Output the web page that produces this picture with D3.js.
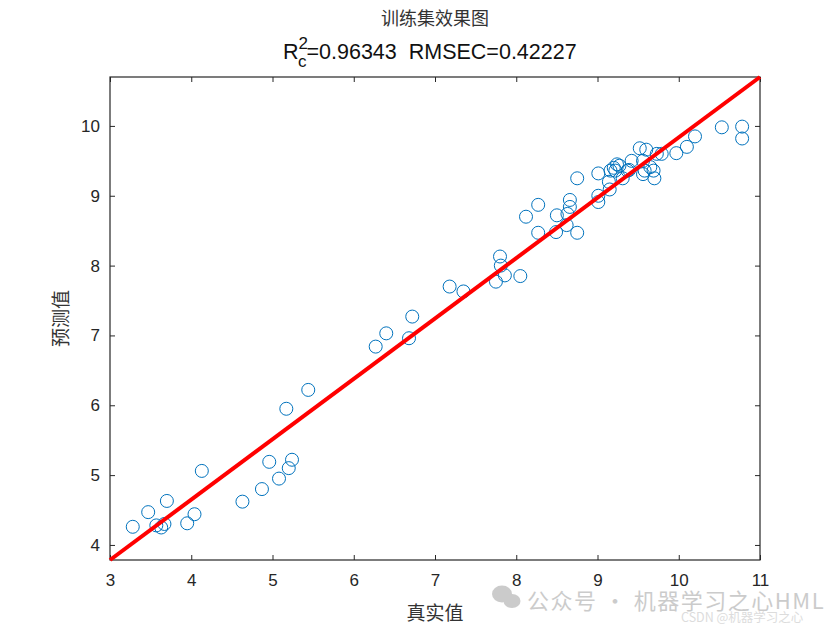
<!DOCTYPE html>
<html>
<head>
<meta charset="utf-8">
<script src="https://cdn.jsdelivr.net/npm/d3@7"></script>
<style>
  body { margin: 0; background: #fff; }
  text { font-family: "Liberation Sans", Arial, sans-serif; }
  .cjk { font-family: "Noto Sans CJK SC", sans-serif; }
</style>
</head>
<body>
<div id="chart"></div>
<script>
// true values (x) and predicted values (y) of the training set
const trueVals = [3.28, 3.47, 3.70, 3.57, 3.63, 3.67, 3.95, 4.04, 4.13, 4.63, 4.87, 5.08, 5.20, 5.24, 4.96,
  5.17, 5.44, 6.27, 6.40, 6.68, 6.72, 7.18, 7.35, 7.80, 7.81, 7.86, 7.75, 8.05, 8.12, 8.27, 8.27, 8.50,
  8.49, 8.62, 8.66, 8.66, 8.63, 8.75, 8.75, 9.01, 9.01, 9.01, 9.15, 9.14, 9.16, 9.20, 9.24, 9.27, 9.22,
  9.31, 9.39, 9.42, 9.37, 9.52, 9.60, 9.56, 9.56, 9.58, 9.65, 9.69, 9.70, 9.73, 9.79, 9.97, 10.10, 10.20,
  10.53, 10.78, 10.78]
const predVals = [4.26, 4.47, 4.63, 4.28, 4.25, 4.30, 4.31, 4.44, 5.06, 4.62, 4.80, 4.95, 5.10, 5.22, 5.19,
  5.95, 6.22, 6.84, 7.03, 6.96, 7.27, 7.70, 7.63, 8.13, 8.00, 7.86, 7.77, 7.85, 8.70, 8.87, 8.47, 8.72,
  8.48, 8.58, 8.94, 8.84, 8.74, 8.47, 9.25, 9.32, 9.00, 8.91, 9.09, 9.20, 9.36, 9.40, 9.45, 9.43, 9.36,
  9.25, 9.37, 9.50, 9.36, 9.68, 9.66, 9.50, 9.31, 9.36, 9.41, 9.36, 9.25, 9.60, 9.60, 9.61, 9.70, 9.85,
  9.98, 9.99, 9.82]

// fitted line y = slope * x + intercept
const fitSlope = 0.8645
const fitIntercept = 1.191
const xTicks = [3, 4, 5, 6, 7, 8, 9, 10, 11]
const yTicks = [4, 5, 6, 7, 8, 9, 10]
const xRange = [3, 11]

const W = 840, H = 630
const margin = { left: 110, top: 77, right: 80, bottom: 70 }
const pw = W - margin.left - margin.right
const ph = H - margin.top - margin.bottom

const x = d3.scaleLinear().domain(xRange).range([0, pw])
const y = d3.scaleLinear()
  .domain([fitSlope * xRange[0] + fitIntercept, fitSlope * xRange[1] + fitIntercept])
  .range([ph, 0])

const svg = d3.select("#chart").append("svg")
  .attr("width", W).attr("height", H)

const g = svg.append("g")
  .attr("transform", "translate(" + margin.left + "," + margin.top + ")")

// axes, ticks pointing inward
g.append("g").attr("transform", "translate(0," + ph + ")")
  .call(d3.axisBottom(x).tickValues(xTicks).tickFormat(d3.format("d")).tickSize(-5).tickPadding(14).tickSizeOuter(0))
g.append("g")
  .call(d3.axisLeft(y).tickValues(yTicks).tickFormat(d3.format("d")).tickSize(-5).tickPadding(10).tickSizeOuter(0))
// top and right ticks (box)
g.append("g").call(d3.axisTop(x).tickValues(xTicks).tickSize(-5).tickFormat("").tickSizeOuter(0))
g.append("g").attr("transform", "translate(" + pw + ",0)")
  .call(d3.axisRight(y).tickValues(yTicks).tickSize(-5).tickFormat("").tickSizeOuter(0))

g.selectAll(".domain").remove()
g.selectAll(".tick line").attr("stroke", "#262626")
g.selectAll(".tick text").attr("fill", "#262626").style("font-size", "17px")

g.append("rect")
  .attr("width", pw).attr("height", ph)
  .attr("fill", "none").attr("stroke", "#262626").attr("stroke-width", 1.2)

// scatter
g.append("g").selectAll("circle")
  .data(trueVals.map((v, i) => [v, predVals[i]]))
  .enter().append("circle")
  .attr("cx", d => x(d[0]))
  .attr("cy", d => y(d[1]))
  .attr("r", 6.5)
  .attr("fill", "none")
  .attr("stroke", "#0072BD")
  .attr("stroke-width", 1)

// fitted line
g.append("path")
  .datum(xRange)
  .attr("d", d3.line().x(d => x(d)).y(d => y(fitSlope * d + fitIntercept)))
  .attr("stroke", "#ff0000")
  .attr("stroke-width", 4)
  .attr("fill", "none")

// titles
svg.append("text").attr("class", "cjk")
  .attr("x", 435).attr("y", 25).attr("text-anchor", "middle")
  .style("font-size", "18px").attr("fill", "#333")
  .text("训练集效果图")

const sub = svg.append("text")
  .attr("x", 283).attr("y", 59)
  .style("font-size", "21.5px").style("white-space", "pre").attr("fill", "#111")
sub.append("tspan").text("R")
sub.append("tspan").attr("dy", -10).style("font-size", "17px").text("2")
sub.append("tspan").attr("dx", -10).attr("dy", 18).style("font-size", "17px").text("c")
sub.append("tspan").attr("dy", -8).text("=0.96343  RMSEC=0.42227")

svg.append("text").attr("class", "cjk")
  .attr("x", 435).attr("y", 620).attr("text-anchor", "middle")
  .style("font-size", "19px").attr("fill", "#333")
  .text("真实值")

svg.append("text").attr("class", "cjk")
  .attr("transform", "translate(68," + (margin.top + ph / 2) + ") rotate(-90)")
  .attr("text-anchor", "middle")
  .style("font-size", "19px").attr("fill", "#333")
  .text("预测值")

// watermark
const wm = svg.append("g").attr("opacity", 0.5)
wm.append("ellipse").attr("cx", 502).attr("cy", 594).attr("rx", 10).attr("ry", 8.5).attr("fill", "#999")
wm.append("ellipse").attr("cx", 512).attr("cy", 601).attr("rx", 8.5).attr("ry", 7).attr("fill", "#999")
wm.append("text").attr("class", "cjk")
  .attr("x", 527).attr("y", 609)
  .style("font-size", "22px").style("letter-spacing", "1.5px").attr("fill", "#999")
  .text("公众号 · 机器学习之心HML")
wm.append("text").attr("class", "cjk")
  .attr("x", 681).attr("y", 622)
  .style("font-size", "12.5px").attr("fill", "#bbb")
  .text("CSDN @机器学习之心")
</script>
</body>
</html>
